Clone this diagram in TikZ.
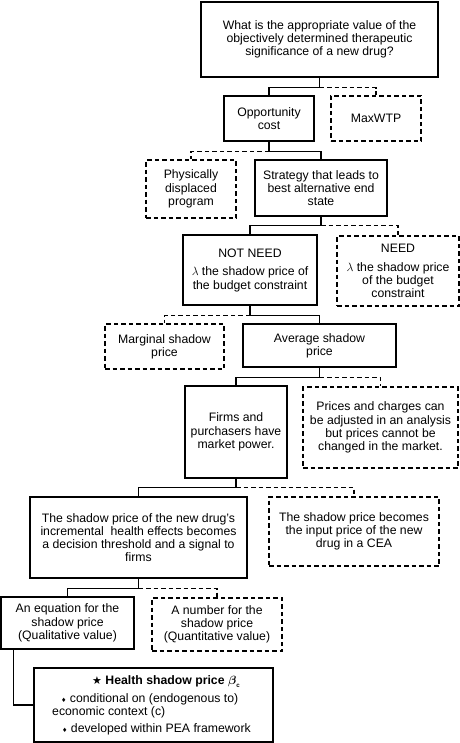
\documentclass[tikz,border=0pt]{standalone}
\usepackage{amsmath}
\usepackage{fontspec}
\setmainfont{Liberation Sans}
\newfontfamily\symfont{DejaVu Sans}
\begin{document}
\begin{tikzpicture}[x=1bp,y=-1bp,
  every node/.style={font=\fontsize{12.3}{13.3}\selectfont, align=center, inner sep=0pt},
  box/.style={draw, line width=1.2bp, rectangle},
  dbox/.style={draw, line width=1.1bp, dash pattern=on 4.5bp off 3bp, rectangle},
  conn/.style={line width=1.2bp},
  dconn/.style={line width=1.1bp, dash pattern=on 4.5bp off 3bp},
  txt/.style={anchor=base west, inner sep=0pt}]
\useasboundingbox (0,0) rectangle (460,743);
\node[box, minimum width=237bp, minimum height=75bp] (q) at (319.5,39.5)
  {What is the appropriate value of the\\objectively determined therapeutic\\significance of a new drug?};
\node[box, minimum width=90bp, minimum height=45bp] (opp) at (269,118.5) {Opportunity\\cost};
\node[dbox, minimum width=90bp, minimum height=45bp] (maxwtp) at (376,118.5) {MaxWTP};
\node[dbox, minimum width=90bp, minimum height=58bp] (phys) at (191,189) {Physically\\displaced\\program};
\node[box, minimum width=132bp, minimum height=56bp] (strat) at (321,188) {Strategy that leads to\\best alternative end\\state};
\node[box, minimum width=134bp, minimum height=70bp] (notneed) at (250,270)
  {NOT NEED\\[5.5bp]$\lambda$ the shadow price of\\the budget constraint};
\node[dbox, minimum width=122bp, minimum height=70bp] (need) at (398,271)
  {NEED\\[5bp]$\lambda$ the shadow price\\of the budget\\constraint};
\node[dbox, minimum width=119bp, minimum height=45bp] (marg) at (164.5,346.5) {Marginal shadow\\price};
\node[box, minimum width=153bp, minimum height=43bp] (avg) at (319.5,345.5) {Average shadow\\price};
\node[box, minimum width=102bp, minimum height=92bp] (firms) at (236,432) {Firms and\\purchasers have\\market power.};
\node[dbox, minimum width=155bp, minimum height=81bp] (prices) at (380.5,427.5)
  {Prices and charges can\\be adjusted in an analysis\\but prices cannot be\\changed in the market.};
\node[box, minimum width=217bp, minimum height=81bp] (shadow) at (138.5,537.5)
  {The shadow price of the new drug's\\incremental\ \ health effects becomes\\a decision threshold and a signal to\\firms};
\node[dbox, minimum width=170bp, minimum height=69bp] (cea) at (354,531.5)
  {The shadow price becomes\\the input price of the new\\drug in a CEA};
\node[box, minimum width=133bp, minimum height=52bp] (eq) at (67.5,623)
  {An equation for the\\shadow price\\(Qualitative value)};
\node[dbox, minimum width=130bp, minimum height=53bp] (num) at (217,624.5)
  {A number for the\\shadow price\\(Quantitative value)};
\node[box, minimum width=239bp, minimum height=74bp] (health) at (153.5,705) {};
\node[txt] (h1) at (92,684.5) {{\symfont\fontsize{11}{11}\selectfont ★} \textbf{Health shadow price} $\boldsymbol{\beta}_{\scriptscriptstyle\textbf{c}}$};
\node[txt] (h2) at (61,702.5) {{\symfont\fontsize{6}{6}\selectfont ♦} conditional on (endogenous to)};
\node[txt] (h3) at (52,715.5) {economic context (c)};
\node[txt] (h4) at (62,732.5) {{\symfont\fontsize{6}{6}\selectfont ♦} developed within PEA framework};
% connectors
\draw[conn] (q.south) -- ++(0,10) coordinate (j1) -| (opp.north);
\draw[dconn] (j1) -| (maxwtp.north);
\draw[conn] (opp.south) -- ++(0,10) coordinate (j2) -| (strat.north);
\draw[dconn] (j2) -| (phys.north);
\draw[conn] (strat.south) -- ++(0,9) coordinate (j3) -| (notneed.north);
\draw[dconn] (j3) -| (need.north);
\draw[conn] (notneed.south) -- ++(0,9.5) coordinate (j4) -| (avg.north);
\draw[dconn] (j4) -| (marg.north);
\draw[conn] (avg.south) -- ++(0,10) coordinate (j5) -| (firms.north);
\draw[dconn] (j5) -| (prices.north);
\draw[conn] (firms.south) -- ++(0,9) coordinate (j6) -| (shadow.north);
\draw[dconn] (j6) -| (cea.north);
\draw[conn] (shadow.south) -- ++(0,10) coordinate (j7) -| (eq.north);
\draw[dconn] (j7) -| (num.north);
\draw[conn] ([xshift=13bp]eq.south west) |- (health.west);
\end{tikzpicture}
\end{document}
